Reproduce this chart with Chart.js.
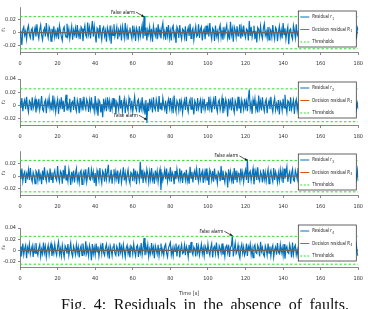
<!DOCTYPE html>
<html>
<head>
<meta charset="utf-8">
<script src="https://cdn.jsdelivr.net/npm/chart.js@4.4.0/dist/chart.umd.min.js"></script>
<style>
    body { margin: 0; background: #fff; }
    #wrap { position: relative; width: 368px; height: 309px; overflow: hidden; }
    #wrap canvas { position: absolute; left: 0; }
    #caption {
        position: absolute; left: 61px; top: 297px; line-height: 16px;
        font-family: "Liberation Serif", "DejaVu Serif", serif;
        font-size: 16px; word-spacing: 3.5px; color: #111; white-space: nowrap;
    }
</style>
</head>
<body>
<div id="wrap">
    <canvas id="c1"></canvas>
    <canvas id="c2"></canvas>
    <canvas id="c3"></canvas>
    <canvas id="c4"></canvas>
    <div id="caption">Fig. 4: Residuals in the absence of faults.</div>
</div>
<script>
//sampling step of the residual signals, in seconds (samples start at t = 0)
const sampleStep = 0.5;

//residual values, in units of 1e-3 (one row = 10 s)
const r1 = [3, -7, -19, 5, 9, -4, 2, -10, 6, 11, -3, -8, 4, 7, -12, 1, 8, -6, 13, -2,
    -9, 5, 12, -4, -11, 3, 7, -6, 15, -1, -8, 9, 4, -13, 6, -3, 10, -7, 2, -5,
    8, -10, 11, 3, -6, -12, 5, 9, -2, -7, 14, -4, 6, -9, 1, 10, -11, 4, -3, 7,
    -8, 12, -5, 2, -10, 9, 6, -13, 3, 11, -4, -7, 16, -2, 8, -9, 5, 18, -6, 10,
    -3, -15, 7, 4, -9, 12, -1, -11, 6, 9, -5, 3, -14, 8, 2, -7, 11, -17, 5, -4,
    13, -6, 1, 9, -10, 4, -3, 7, -12, 10, 2, -8, 15, -5, 6, -11, 3, 8, -2, -9,
    11, -4, 5, -13, 7, 2, -8, 10, -6, 3, 12, -9, 26, -5, 8, -12, 4, -3, 9, -7,
    6, -14, 10, 1, -5, 8, -10, 13, -3, 4, -9, 7, 15, -6, 2, -11, 9, -4, 12, -8,
    3, -12, 7, 11, -6, 1, -16, 9, 5, -8, 12, -3, -10, 6, 4, -7, 10, -13, 2, 8,
    -5, 14, -9, 3, 7, -11, 1, 10, -6, -4, 13, -8, 5, 9, -12, 2, 6, -10, 11, -3,
    8, -6, 15, -2, -10, 7, 4, -13, 11, -5, 2, -9, 6, 12, -7, 3, -11, 9, -4, 5,
    12, -8, 1, -11, 17, -3, 6, -14, 9, 4, -7, 10, -5, 2, 13, -9, 7, -6, 11, -2,
    -8, 6, 4, -12, 18, -5, 9, -7, 2, 11, -10, 3, -15, 8, 5, -6, 10, -3, -9, 7,
    14, -4, 2, -8, 9, -11, 6, 3, -7, 12, -2, -10, 8, 5, -13, 1, 10, -6, 4, -9,
    15, -3, 7, -10, 2, 9, -18, 4, 6, -5, -10, 11, 3, -8, 13, -4, 1, -12, 8, 5,
    -6, 10, -2, 7, -9, 14, -5, 3, -11, 8, 4, -7, 12, -1, -10, 6, -3, 9, -8, 11,
    2, -13, 8, 5, -6, 1, 15, -9, 4, 10, -4, -12, 7, 3, -8, 11, -5, 6, -10, 2,
    13, -7, 4, -14, 9, 1, -5, 10, -3, 7, -11, 12, -2, -8, 6, 9, -6, 3, -10, 8,
    4];

const r2 = [6, -4, 11, -9, 3, 8, -6, 13, -2, -10, 7, 4, -8, 12, -5, 1, 9, -11, 5, -3,
    10, -7, 2, 14, -6, -9, 4, 8, -12, 6, -1, 11, -5, 3, -8, 15, -4, 7, -10, 2,
    9, -13, 5, -2, 12, -6, 7, -10, 3, 16, -8, 1, -5, 10, -11, 4, 6, -7, 13, -3,
    -9, 8, 2, -12, 11, -4, 6, -8, 13, -1, -6, 9, 4, -10, 7, -5, 12, -3, 1, -9,
    14, -7, 3, -16, 8, 5, -11, 2, -18, 10, -4, 6, -9, 12, -2, 7, -10, 4, -6, 11,
    -3, 9, -13, 5, 1, -7, 15, -5, 8, -9, 3, 10, -12, 6, -2, -8, 11, 4, -6, 7,
    -10, 2, 13, -4, -8, 6, 9, -11, 3, -5, 12, -7, 1, -14, 8, -27, 4, -9, 10, -2,
    6, -11, 12, -3, -7, 9, 2, -10, 14, -5, 4, -8, 11, 1, -6, 7, -13, 3, 9, -4,
    11, -6, 5, -12, 15, -2, -9, 7, 3, -8, 10, -4, 6, -11, 1, 8, -7, 13, -3, -10,
    4, 9, -6, 12, -1, -14, 7, 3, -9, 11, -5, 2, 8, -12, 6, -3, 10, -7, 1, 5,
    -8, 13, -4, 7, -11, 2, 9, -6, 14, -3, -10, 5, 8, -7, 1, 11, -12, 4, -5, 9,
    3, -17, 10, -2, 6, -8, 12, -4, -11, 7, 2, -9, 13, -5, 4, -12, 8, 1, -7, 10,
    -3, 6, -9, 11, 24, -5, 3, -13, 8, -1, 10, -7, 2, -11, 15, -4, 6, -8, 12, -2,
    -9, 5, 9, -12, 1, 7, -6, 13, -3, -10, 4, 11, -7, 2, -5, 8, -14, 6, 3, -8,
    10, -4, 16, -2, -11, 7, 5, -9, 12, -6, 1, 8, -13, 4, 9, -7, 3, -10, 11, -5,
    14, -3, 6, -8, 2, 11, -12, 5, -6, 9, -1, 13, -5, 3, -9, 7, -4, 10, -11, 2,
    8, -6, 12, -10, 4, 15, -3, -7, 9, 1, -12, 6, 3, -8, 11, -2, -5, 10, -9, 4,
    7, -13, 5, 2, -10, 12, -4, 8, -6, -14, 9, 3, -7, 12, -1, 6, -9, 10, -5, 3,
    -6];

const r3 = [9, -5, 12, -8, 3, 7, -11, 4, -2, 10, -6, 13, -3, -9, 6, 1, -12, 8, 5, -7,
    11, -4, 2, -13, 9, -6, 14, -1, -8, 7, 3, -10, 12, -5, 6, -11, 4, 9, -3, -7,
    16, -2, -9, 8, 5, -12, 10, -4, 17, -6, 3, -8, 11, 1, -14, 7, -5, 9, -10, 4,
    12, -7, 2, -10, 6, 9, -13, 3, 8, -5, 11, -9, 1, 14, -4, -6, 10, -2, 7, -11,
    5, -16, 9, 3, -7, 13, -2, -11, 8, 4, -9, 12, -5, 6, 18, -8, -3, 10, -12, 2,
    11, -6, 7, -4, 9, -12, 3, 8, -10, 1, 14, -7, 5, -9, 2, 10, -5, -11, 6, 4,
    -8, 12, -3, 9, -13, 5, 1, -7, 23, -4, 10, -11, 6, -2, -8, 11, 3, -10, 7, -5,
    13, -6, 2, -12, 9, -3, 8, -9, 4, 11, -22, 6, -7, 1, 10, -5, 12, -8, 3, -4,
    14, -9, 6, 2, -13, 8, -5, 11, -1, -7, 12, -4, 9, -11, 3, 5, -6, 10, -8, 1,
    -12, 15, -3, 7, -10, 4, 9, -6, 11, -2, -9, 13, -5, 3, 8, -11, 6, -4, 12, -7,
    2, -14, 10, 5, -6, 8, -9, 12, -3, 1, -11, 7, 4, -8, 16, -5, 9, -2, -10, 6,
    3, -18, 11, -4, 7, -7, 2, -12, 13, -6, 9, -10, 5, 1, -8, 12, -3, 6, -9, 4,
    10, -6, 27, -11, 5, 8, -7, 3, 12, -13, 1, 9, -6, 14, -4, -8, 7, 2, -10, 11,
    -5, 6, -8, 3, 11, -12, 4, 9, -2, -9, 13, -6, 7, 1, -10, 5, -7, 10, -3, 8,
    -11, 12, -4, 6, 15, -9, 2, 7, -12, 4, 11, -6, -8, 9, 3, -5, 13, -10, 1, 6,
    -10, 8, -3, 13, -7, 2, -14, 9, 5, -6, 12, -1, -11, 7, 4, 10, -9, 3, -5, 8,
    -9, 14, -2, -7, 6, 11, -12, 3, 8, -4, 9, -10, 1, 12, -6, 5, -8, 10, -3, 7,
    -6, 11, -13, 4, 7, -9, 2, 12, -5, -11, 10, 3, -7, 8, -2, 13, -10, 5, -4, 9,
    -8];

const r4 = [-10, 7, -4, 12, -8, 3, 9, -14, 5, -2, 11, -7, 1, 8, -12, 6, -5, 13, -3, -9,
    4, 10, -11, 2, -6, 14, -4, 7, -12, 1, 9, -8, 5, 12, -10, 3, -6, 11, -2, -9,
    6, 15, -7, 3, -10, 9, -3, -12, 8, 4, -6, 11, -9, 2, 13, -5, -11, 7, 1, -8,
    10, -4, 6, -13, 3, 8, -9, 12, -2, -7, 16, -5, 4, -10, 9, 1, -18, 11, -6, 5,
    -8, 12, -3, 7, -11, 2, 9, -6, 13, -4, -9, 5, 11, -7, 3, -15, 8, 1, -10, 6,
    12, -5, -9, 7, 2, -11, 14, -3, 6, -8, 10, -1, -12, 4, 9, -6, 3, -13, 8, 5,
    -7, 11, -2, -10, 6, 9, -12, 3, -5, 13, -8, 4, 22, -9, 7, -3, 10, -11, 2, -6,
    13, -4, 5, -14, 8, 1, -7, 10, -10, 3, 12, -6, 2, -9, 7, 11, -5, -12, 4, 9,
    14, -8, 3, -10, 6, -2, 12, -11, 5, 8, -13, 2, 10, -6, -4, 9, -9, 7, 1, -12,
    10, -5, 15, -3, -8, 6, 2, -11, 13, -4, 7, -9, 1, 11, -6, 4, -10, 8, 3, -7,
    11, -2, -9, 5, 12, -13, 4, 7, -6, 14, -1, -10, 8, 3, -5, 12, -8, 2, -11, 6,
    9, -4, 10, -12, 5, 8, 27, -11, 3, 13, -6, -2, 9, -7, -14, 4, 11, -5, 6, -9,
    -3, 12, -10, 7, 1, 11, -8, 4, -13, 6, 10, -4, -6, 9, 3, -11, 15, -2, 5, -7,
    -11, 8, 2, -9, 12, -5, 7, -10, 4, 9, -12, 1, 6, -8, 13, -3, -6, 10, -4, 5,
    -9, 11, -15, 3, 7, -4, -6, 10, 2, -13, 14, -7, 5, 9, -8, 1, -11, 12, -3, 6,
    -11, 4, 8, -10, 12, -2, -7, 6, 3, -12, 11, -5, 9, -8, 2, 13, -9, 4, -6, 10,
    -6, 7, -14, 3, 10, -9, 5, -11, 12, 1, -8, 9, -4, 11, -10, 2, 6, -12, 8, -3,
    -13, 9, 4, -7, 11, -2, -12, 6, 8, -5, -6, 14, -9, 3, 10, -11, 5, -4, 9, -7,
    -10];

const residuals = [r1, r2, r3, r4];
const decisionValue = 0;          //decision residual stays at zero (no faults)
const threshold = 0.025;
const timeTicks = [0, 20, 40, 60, 80, 100, 120, 140, 160, 180];
const yTicks1 = [-0.02, 0, 0.02];
const yTicks2 = [-0.02, 0, 0.02, 0.04];
const yTickSets = [yTicks1, yTicks2, yTicks1, yTicks2];
//false alarm arrows: time [s] and residual value at the arrow tip
const alarmTimes = [66, 67.5, 121, 113];
const alarmValues = [0.025, -0.022, 0.025, 0.026];

//layout of each panel (plot area top and height in px)
const panels = [
    { areaTop: 7, areaH: 45, axisH: 16, legendDy: 4 },
    { areaTop: 79, areaH: 46, axisH: 16, legendDy: 3 },
    { areaTop: 151, areaH: 44, axisH: 16, legendDy: 3 },
    { areaTop: 228, areaH: 39, axisH: 30, legendDy: -3 }
];

const FONT = "'Liberation Sans Narrow', 'Arial Narrow', 'DejaVu Sans Condensed', sans-serif";
const BLUE = '#0072BD';
const ORANGE = '#D95319';
const GREEN = '#2ee02e';
const SUBS = ['\u2081', '\u2082', '\u2083', '\u2084'];

Chart.defaults.font.family = FONT;
Chart.defaults.color = '#333';

//helper to write condensed legend text with a small subscript after it
function drawSub(ctx, text, sub, x, y) {
    ctx.save();
    ctx.translate(x, y);
    ctx.scale(0.8, 1);
    ctx.font = '5.5px ' + FONT;
    ctx.fillText(text, 0, 0);
    const w = ctx.measureText(text).width;
    ctx.font = '4px ' + FONT;
    ctx.fillText(sub, w + 0.4, 1.8);
    ctx.restore();
}

//plugin drawing the boxed legend and the false alarm arrow of a panel
const panelDecor = {
    id: 'panelDecor',
    afterDatasetsDraw(chart, args, opts) {
        const ctx = chart.ctx;
        const area = chart.chartArea;
        const i = opts.index;
        ctx.save();

        //false alarm annotation
        const tx = chart.scales.x.getPixelForValue(alarmTimes[i]);
        const ty = chart.scales.y.getPixelForValue(alarmValues[i]);
        const lx = tx - 8, ly = ty - 4.5;
        ctx.fillStyle = '#111';
        ctx.textBaseline = 'middle';
        ctx.save();
        ctx.translate(lx - 1, ly);
        ctx.scale(0.85, 1);
        ctx.font = '5.5px ' + FONT;
        ctx.textAlign = 'right';
        ctx.fillText('False alarm', 0, 0);
        ctx.restore();
        ctx.strokeStyle = '#111';
        ctx.lineWidth = 0.7;
        ctx.beginPath();
        ctx.moveTo(lx, ly);
        ctx.lineTo(tx, ty);
        ctx.stroke();
        const ang = Math.atan2(ty - ly, tx - lx);
        ctx.beginPath();
        ctx.moveTo(tx, ty);
        ctx.lineTo(tx - 3 * Math.cos(ang - 0.45), ty - 3 * Math.sin(ang - 0.45));
        ctx.lineTo(tx - 3 * Math.cos(ang + 0.45), ty - 3 * Math.sin(ang + 0.45));
        ctx.closePath();
        ctx.fill();

        //legend box
        const bw = 58, bh = 36;
        const bx = area.right - 2 - bw;
        const by = area.top + panels[i].legendDy;
        ctx.fillStyle = '#fff';
        ctx.fillRect(bx, by, bw, bh);
        ctx.strokeStyle = '#222';
        ctx.lineWidth = 0.7;
        ctx.strokeRect(bx, by, bw, bh);

        const rows = [
            { color: BLUE, dash: [], text: 'Residual r', sub: String(i + 1) },
            { color: ORANGE, dash: [], text: 'Decision residual R', sub: String(i + 1) },
            { color: GREEN, dash: [2, 1.5], text: 'Thresholds', sub: '' }
        ];
        ctx.textAlign = 'left';
        rows.forEach((r, k) => {
            const ry = by + 6 + k * 12.5;
            ctx.strokeStyle = r.color;
            ctx.lineWidth = 1;
            ctx.setLineDash(r.dash);
            ctx.beginPath();
            ctx.moveTo(bx + 2, ry);
            ctx.lineTo(bx + 11, ry);
            ctx.stroke();
            ctx.setLineDash([]);
            ctx.fillStyle = '#222';
            drawSub(ctx, r.text, r.sub, bx + 14, ry);
        });
        ctx.restore();
    }
};

//function to build one residual panel
function renderPanel(i) {
    const p = panels[i];
    const canvas = document.getElementById('c' + (i + 1));
    canvas.width = 368;
    canvas.height = 7 + p.areaH + p.axisH;
    canvas.style.top = (p.areaTop - 7) + 'px';

    const points = residuals[i].map((v, k) => ({ x: k * sampleStep, y: v / 1000 }));
    const tEnd = (residuals[i].length - 1) * sampleStep;
    const isLast = i === panels.length - 1;

    new Chart(canvas.getContext('2d'), {
        type: 'line',
        data: {
            datasets: [
                {
                    label: 'Thresholds',
                    data: [{ x: 0, y: threshold }, { x: tEnd, y: threshold }],
                    borderColor: GREEN, borderWidth: 1, borderDash: [2.5, 2], order: 0
                },
                {
                    label: 'Thresholds low',
                    data: [{ x: 0, y: -threshold }, { x: tEnd, y: -threshold }],
                    borderColor: GREEN, borderWidth: 1, borderDash: [2.5, 2], order: 0
                },
                {
                    label: 'Decision residual R' + (i + 1),
                    data: [{ x: 0, y: decisionValue }, { x: tEnd, y: decisionValue }],
                    borderColor: '#6f6661', borderWidth: 1.2, order: 1
                },
                {
                    label: 'Residual r' + (i + 1),
                    data: points,
                    borderColor: BLUE, borderWidth: 1.2, order: 2
                }
            ]
        },
        options: {
            responsive: false,
            animation: false,
            devicePixelRatio: 1,
            parsing: false,
            elements: { point: { radius: 0 }, line: { tension: 0 } },
            layout: { padding: { top: 7, right: 6, left: 0, bottom: 0 } },
            scales: {
                x: {
                    type: 'linear', min: 0, max: 180,
                    afterBuildTicks: s => { s.ticks = timeTicks.map(v => ({ value: v })); },
                    afterFit: s => { s.height = p.axisH; },
                    ticks: { font: { size: 5.5 }, color: '#333', padding: 5, maxRotation: 0 },
                    grid: { drawOnChartArea: false, tickLength: 3, color: '#555', lineWidth: 0.7 },
                    border: { color: '#555', width: 0.7 },
                    title: { display: isLast, text: 'Time [s]', font: { size: 5.5 }, color: '#333', padding: { top: 2, bottom: 0 } }
                },
                y: {
                    min: -0.03, max: 0.04,
                    afterBuildTicks: s => { s.ticks = yTickSets[i].map(v => ({ value: v })); },
                    afterFit: s => { s.width = 20; },
                    ticks: {
                        font: { size: 5.5 }, color: '#333', padding: 2,
                        callback: v => v === 0 ? '0' : v.toFixed(2)
                    },
                    grid: { drawOnChartArea: false, tickLength: 2, color: '#555', lineWidth: 0.7 },
                    border: { color: '#555', width: 0.7 },
                    title: { display: true, text: 'r' + SUBS[i], font: { size: 6 }, color: '#333', padding: { top: 0, bottom: 1 } }
                }
            },
            plugins: {
                legend: { display: false },
                tooltip: { enabled: false },
                panelDecor: { index: i }
            }
        },
        plugins: [panelDecor]
    });
}

panels.forEach((p, i) => renderPanel(i));
</script>
</body>
</html>
